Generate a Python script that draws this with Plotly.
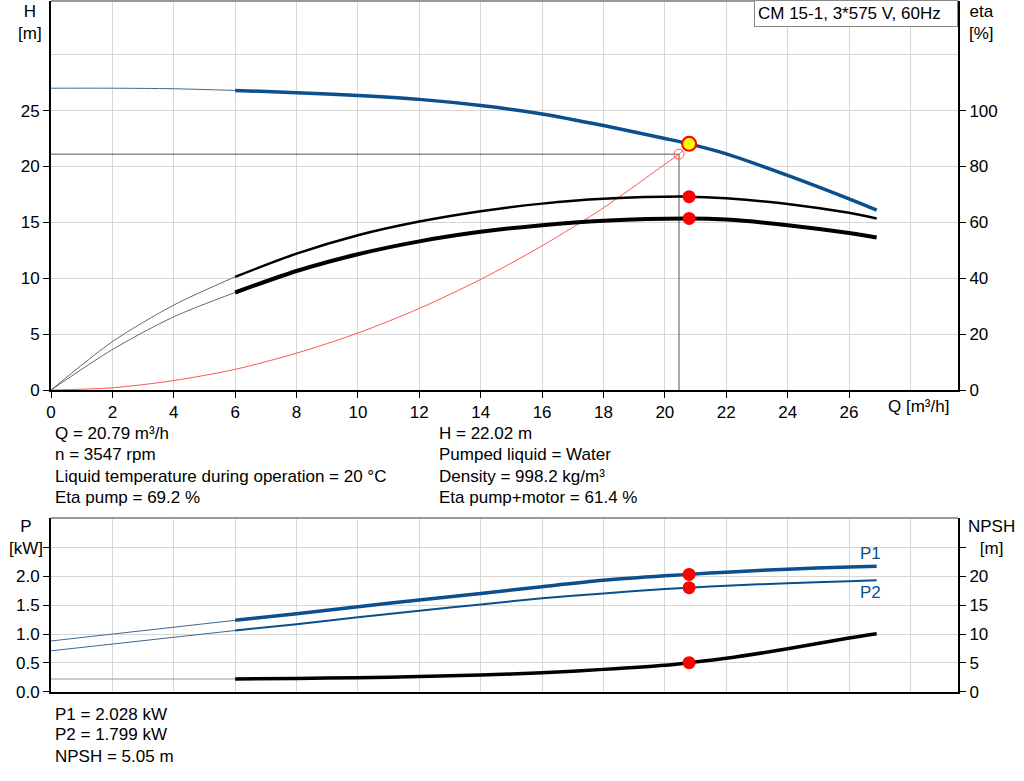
import plotly.graph_objects as go

# pump curve data (Q in m3/h)
q_head = [0, 2, 4, 6, 8, 10, 12, 14, 16, 18, 20, 20.79, 22, 24, 26, 26.9]
head = [27.0, 27.0, 26.95, 26.8, 26.6, 26.35, 26.0, 25.45, 24.7, 23.66, 22.5, 22.02, 21.13, 19.2, 17.1, 16.1]

q_eta = [0, 2, 4, 6, 8, 10, 12, 14, 16, 18, 20.79, 22, 24, 26, 26.9]
eta_pump = [0, 17.3, 30.4, 40.5, 48.8, 55.4, 60.3, 64.0, 66.7, 68.4, 69.2, 68.6, 66.6, 63.4, 61.4]
eta_total = [0, 14.5, 26.2, 34.9, 42.6, 48.6, 53.2, 56.6, 59.0, 60.6, 61.4, 61.0, 59.0, 56.2, 54.6]

# system curve
q_sys = [0, 2, 4, 6, 8, 10, 12, 14, 16, 18, 20, 20.46, 20.79]
h_sys = [0, 0.2, 0.85, 1.85, 3.3, 5.1, 7.3, 9.9, 12.9, 16.3, 20.2, 21.1, 22.0]

q_pow = [0, 6, 8, 10, 12, 14, 16, 18, 20, 20.79, 22, 24, 26, 26.9]
p1 = [0.88, 1.236, 1.35, 1.47, 1.586, 1.70, 1.816, 1.925, 2.003, 2.028, 2.066, 2.118, 2.155, 2.167]
p2 = [0.71, 1.06, 1.17, 1.29, 1.40, 1.51, 1.615, 1.70, 1.776, 1.799, 1.833, 1.875, 1.91, 1.925]
npsh = [2.24, 2.24, 2.33, 2.47, 2.66, 2.93, 3.3, 3.9, 4.62, 5.05, 5.8, 7.45, 9.3, 10.05]

# duty point
q_op = 20.79
h_op = 22.02
eta_pump_op = 69.2
eta_total_op = 61.4
p1_op = 2.028
p2_op = 1.799
npsh_op = 5.05
q_req = 20.46
h_req = 21.1

q_min = 6  # curves are drawn thin below this flow

BLUE = "#0b4f8c"
GRID = "#d6d6d6"
FONT = "Arial, Liberation Sans, sans-serif"
FS = 17


def split(qs, vs):
    lo = [(q, v) for q, v in zip(qs, vs) if q <= q_min]
    hi = [(q, v) for q, v in zip(qs, vs) if q >= q_min]
    return [p[0] for p in lo], [p[1] for p in lo], [p[0] for p in hi], [p[1] for p in hi]


fig = go.Figure()


def add_curve(qs, vs, color, thin_color, width, xa, ya):
    ql, vl, qh, vh = split(qs, vs)
    fig.add_trace(go.Scatter(x=ql, y=vl, mode="lines",
                             line=dict(color=thin_color, width=1, shape="spline", smoothing=0.8),
                             xaxis=xa, yaxis=ya, hoverinfo="skip"))
    fig.add_trace(go.Scatter(x=qh, y=vh, mode="lines",
                             line=dict(color=color, width=width, shape="spline", smoothing=0.8),
                             xaxis=xa, yaxis=ya))


# top chart: head, efficiencies, system curve
fig.add_trace(go.Scatter(x=[0, q_req, q_req], y=[h_req, h_req, 0], mode="lines",
                         line=dict(color="#555555", width=1), xaxis="x", yaxis="y"))
fig.add_trace(go.Scatter(x=q_sys, y=h_sys, mode="lines",
                         line=dict(color="#ff5555", width=1, shape="spline", smoothing=0.8),
                         xaxis="x", yaxis="y"))
add_curve(q_head, head, BLUE, "#40688f", 3.5, "x", "y")
add_curve(q_eta, eta_pump, "black", "#666666", 2.5, "x", "y2")
add_curve(q_eta, eta_total, "black", "#666666", 4, "x", "y2")
fig.add_trace(go.Scatter(x=[q_req], y=[h_req], mode="markers",
                         marker=dict(size=10, color="rgba(0,0,0,0)", line=dict(color="#ff5555", width=1)),
                         xaxis="x", yaxis="y"))
fig.add_trace(go.Scatter(x=[q_op, q_op], y=[eta_pump_op, eta_total_op], mode="markers",
                         marker=dict(size=13, color="red"), xaxis="x", yaxis="y2"))
fig.add_trace(go.Scatter(x=[q_op], y=[h_op], mode="markers",
                         marker=dict(size=14, color="yellow", line=dict(color="red", width=2)),
                         xaxis="x", yaxis="y"))

# bottom chart: power and NPSH
add_curve(q_pow, p1, BLUE, "#40688f", 3.5, "x2", "y3")
add_curve(q_pow, p2, BLUE, "#40688f", 2, "x2", "y3")
add_curve(q_pow, npsh, "black", "#999999", 3.5, "x2", "y4")
fig.add_trace(go.Scatter(x=[q_op, q_op], y=[p1_op, p2_op], mode="markers",
                         marker=dict(size=13, color="red"), xaxis="x2", yaxis="y3"))
fig.add_trace(go.Scatter(x=[q_op], y=[npsh_op], mode="markers",
                         marker=dict(size=13, color="red"), xaxis="x2", yaxis="y4"))

x_ticks = list(range(0, 27, 2))
axis_common = dict(showline=True, linecolor="black", linewidth=2, ticks="outside",
                   tickcolor="black", ticklen=6, gridcolor=GRID, gridwidth=1, zeroline=False,
                   tickfont=dict(size=FS, color="black"))

fig.update_layout(
    width=1024, height=781,
    margin=dict(l=51, r=66, t=1, b=89, autoexpand=False),
    plot_bgcolor="white", paper_bgcolor="white",
    showlegend=False,
    font=dict(family=FONT, size=FS, color="black"),
    xaxis=dict(domain=[0, 1], anchor="y", range=[0, 29.55], tickvals=x_ticks,
               minor=dict(tickmode="array", tickvals=[28], showgrid=True, gridcolor=GRID, ticks=""),
               **axis_common),
    yaxis=dict(domain=[0.437, 1], anchor="x", range=[0, 34.8], tickvals=[0, 5, 10, 15, 20, 25],
               minor=dict(tickmode="array", tickvals=[30], showgrid=True, gridcolor=GRID, ticks=""),
               **axis_common),
    yaxis2=dict(overlaying="y", anchor="x", side="right", range=[0, 139.2],
                tickvals=[0, 20, 40, 60, 80, 100], **{**axis_common, "showgrid": False}),
    xaxis2=dict(domain=[0, 1], anchor="y3", range=[0, 29.55], tickvals=list(range(0, 29, 2)),
                showticklabels=False, **{**axis_common, "ticks": ""}),
    yaxis3=dict(domain=[0, 0.2518], anchor="x2", range=[0, 3.0],
                tickvals=[0, 0.5, 1.0, 1.5, 2.0, 2.5],
                ticktext=["0.0", "0.5", "1.0", "1.5", "2.0", ""], **axis_common),
    yaxis4=dict(overlaying="y3", anchor="x2", side="right", range=[0, 30],
                tickvals=[0, 5, 10, 15, 20, 25], ticktext=["0", "5", "10", "15", "20", ""],
                **{**axis_common, "showgrid": False}),
)

# gray top borders of both charts
fig.add_shape(type="line", xref="paper", yref="paper", x0=0, x1=1, y0=1, y1=1,
              line=dict(color="#999999", width=2))
fig.add_shape(type="line", xref="paper", yref="paper", x0=0, x1=1, y0=0.2518, y1=0.2518,
              line=dict(color="#999999", width=2))


def text(x, y, s, xanchor="left", color="black", yanchor="middle"):
    fig.add_annotation(x=x, y=y, xref="paper", yref="paper", text=s, showarrow=False,
                       xanchor=xanchor, yanchor=yanchor, align="center",
                       font=dict(size=FS, color=color, family=FONT))


fig.add_annotation(x=1, y=1.001, xref="paper", yref="paper", text="CM 15-1, 3*575 V, 60Hz",
                   showarrow=False, xanchor="right", yanchor="top", bordercolor="#888888",
                   borderwidth=1, bgcolor="white", borderpad=3, width=196, align="left",
                   font=dict(size=FS, color="black", family=FONT))

text(-0.023, 1.0014, "H<br>[m]", xanchor="center", yanchor="top")
text(1.026, 1.0014, "eta<br>[%]", xanchor="center", yanchor="top")
text(-0.028, 0.2229, "P<br>[kW]", xanchor="center")
text(1.037, 0.2229, "NPSH<br>[m]", xanchor="center")
text(0.956, 0.4125, "Q [m³/h]", xanchor="center")

info_left = ["Q = 20.79 m³/h", "n = 3547 rpm", "Liquid temperature during operation = 20 °C",
             "Eta pump = 69.2 %"]
info_right = ["H = 22.02 m", "Pumped liquid = Water", "Density = 998.2 kg/m³",
              "Eta pump+motor = 61.4 %"]
info_bottom = ["P1 = 2.028 kW", "P2 = 1.799 kW", "NPSH = 5.05 m"]
rows_top = [433, 455, 476, 497]
rows_bottom = [714, 735, 756]
for s, yp in zip(info_left, rows_top):
    text(0.002, (692 - yp) / 691, s)
for s, yp in zip(info_right, rows_top):
    text(0.4256, (692 - yp) / 691, s)
for s, yp in zip(info_bottom, rows_bottom):
    text(0.002, (692 - yp) / 691, s)

text(0.8897, 0.201, "P1", color=BLUE)
text(0.8897, 0.1433, "P2", color=BLUE)

fig.write_html("out.html", config={"displayModeBar": False},
               post_script="document.body.style.margin='0';")
